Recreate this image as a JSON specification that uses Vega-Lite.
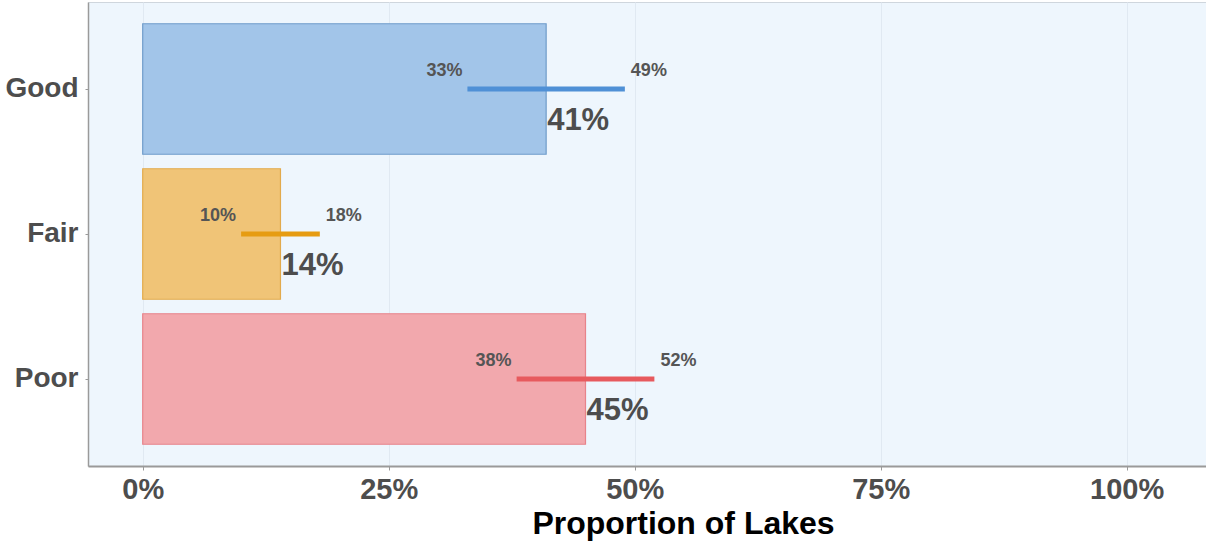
{
  "$schema": "https://vega.github.io/schema/vega-lite/v6.json",
  "autosize": "none",
  "width": 1118,
  "height": 464,
  "padding": {"left": 88, "top": 2, "right": 0, "bottom": 77},
  "background": "white",
  "config": {
    "font": "Liberation Sans",
    "view": {"fill": "#eef6fd", "stroke": "#cfd6dd", "strokeWidth": 1}
  },
  "data": {
    "values": [
      {"condition": "Good", "share": 0.41, "lo": 0.33, "hi": 0.49},
      {"condition": "Fair", "share": 0.14, "lo": 0.10, "hi": 0.18},
      {"condition": "Poor", "share": 0.45, "lo": 0.38, "hi": 0.52}
    ]
  },
  "encoding": {
    "y": {
      "field": "condition",
      "type": "nominal",
      "sort": ["Good", "Fair", "Poor"],
      "scale": {"paddingInner": 0.1, "paddingOuter": 0.15},
      "axis": {
        "title": null,
        "labelFontSize": 28,
        "labelFontWeight": "bold",
        "labelColor": "#4d4d4d",
        "labelPadding": 7,
        "tickSize": 3,
        "tickColor": "#9a9a9a",
        "domainColor": "#9a9a9a",
        "domainWidth": 1.5
      }
    }
  },
  "layer": [
    {
      "mark": {"type": "bar", "strokeWidth": 1.2},
      "encoding": {
        "x": {
          "field": "share",
          "type": "quantitative",
          "scale": {"domain": [-0.0556, 1.0806], "nice": false, "zero": false},
          "axis": {
            "values": [0, 0.25, 0.5, 0.75, 1],
            "format": ".0%",
            "title": "Proportion of Lakes",
            "titleFontSize": 32,
            "titleFontWeight": "bold",
            "titleColor": "#000000",
            "titleX": 595,
            "titlePadding": 4,
            "labelFontSize": 29,
            "labelFontWeight": "bold",
            "labelColor": "#4d4d4d",
            "labelPadding": 5,
            "tickSize": 4,
            "tickColor": "#9a9a9a",
            "domainColor": "#9a9a9a",
            "domainWidth": 2,
            "grid": true,
            "gridColor": "#e0e9f2",
            "gridWidth": 1
          }
        },
        "x2": {"datum": 0},
        "fill": {
          "field": "condition",
          "type": "nominal",
          "scale": {"domain": ["Good", "Fair", "Poor"], "range": ["#a2c5e9", "#f0c477", "#f2a8ad"]},
          "legend": null
        },
        "stroke": {
          "field": "condition",
          "type": "nominal",
          "scale": {"domain": ["Good", "Fair", "Poor"], "range": ["#6f9cca", "#e2aa4c", "#e7838a"]},
          "legend": null
        }
      }
    },
    {
      "mark": {"type": "rule", "strokeWidth": 5},
      "encoding": {
        "x": {"field": "lo", "type": "quantitative"},
        "x2": {"field": "hi"},
        "color": {
          "field": "condition",
          "type": "nominal",
          "scale": {"domain": ["Good", "Fair", "Poor"], "range": ["#4f90d6", "#e69c12", "#e75a5e"]},
          "legend": null
        }
      }
    },
    {
      "mark": {"type": "text", "align": "right", "baseline": "alphabetic", "dx": -5, "dy": -13, "fontSize": 18, "fontWeight": "bold", "color": "#555555"},
      "encoding": {
        "x": {"field": "lo", "type": "quantitative"},
        "text": {"field": "lo", "type": "quantitative", "format": ".0%"}
      }
    },
    {
      "mark": {"type": "text", "align": "left", "baseline": "alphabetic", "dx": 6, "dy": -13, "fontSize": 18, "fontWeight": "bold", "color": "#555555"},
      "encoding": {
        "x": {"field": "hi", "type": "quantitative"},
        "text": {"field": "hi", "type": "quantitative", "format": ".0%"}
      }
    },
    {
      "mark": {"type": "text", "align": "left", "baseline": "alphabetic", "dx": 1, "dy": 41, "fontSize": 31, "fontWeight": "bold", "color": "#4d4d4d"},
      "encoding": {
        "x": {"field": "share", "type": "quantitative"},
        "text": {"field": "share", "type": "quantitative", "format": ".0%"}
      }
    }
  ]
}
